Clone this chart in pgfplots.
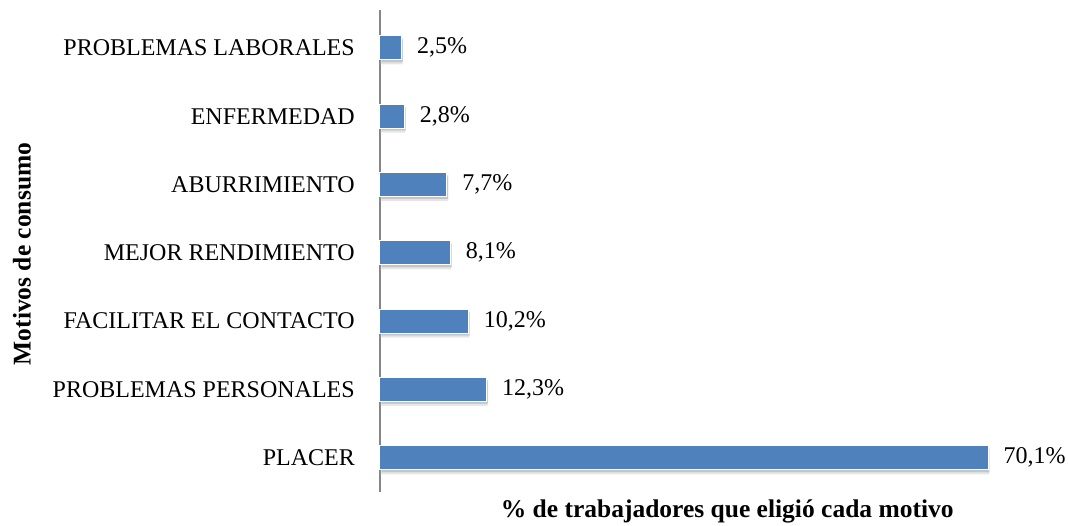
\documentclass[border=0pt]{standalone}
\usepackage{fontspec}
\setmainfont{Liberation Serif}
\usepackage{pgfplots}
\pgfplotsset{compat=1.18}
\definecolor{barblue}{HTML}{4F81BD}
\definecolor{axisgray}{HTML}{868686}
\newcommand{\lblfont}{\fontsize{24pt}{28pt}\selectfont}
\newcommand{\ttlfont}{\fontsize{25.5pt}{30pt}\selectfont\bfseries}

\begin{document}
\begin{tikzpicture}
\begin{axis}[
  at={(0,0)}, anchor=south west,
  scale only axis, width=624.5pt, height=482pt,
  xbar, bar width=24pt,
  xmin=0, xmax=72, ymin=-0.5, ymax=6.554,
  axis lines=left,
  x axis line style={draw=none},
  y axis line style={-, draw=axisgray, line width=1.4pt},
  xtick=\empty,
  ytick={0,...,6},
  yticklabels={PLACER, PROBLEMAS PERSONALES, FACILITAR EL CONTACTO, MEJOR RENDIMIENTO, ABURRIMIENTO, ENFERMEDAD, PROBLEMAS LABORALES},
  major tick length=0pt,
  y tick label style={font=\lblfont, anchor=east, inner sep=0pt, xshift=-25pt},
  xlabel={\% de trabajadores que eligió cada motivo},
  ylabel={Motivos de consumo},
  every axis x label/.style={at={(axis description cs:0.556,0)}, anchor=base, yshift=-26pt, font=\ttlfont},
  every axis y label/.style={at={(axis description cs:0,0.5)}, xshift=-358pt, yshift=-3pt, anchor=center, rotate=90, font=\ttlfont},
  point meta=x,
  /pgf/number format/assume math mode=true,
  nodes near coords={\pgfmathprintnumber[fixed, fixed zerofill, precision=1, use comma]{\pgfplotspointmeta}\%},
  every node near coord/.append style={font=\lblfont, text=black, anchor=west, inner sep=0pt, xshift=15pt},
  clip=false,
]
% soft shadow below each bar, then the bar itself with a thin white rim
\addplot[fill=barblue, draw=white, line width=1pt,
  preaction={fill=black, opacity=0.10, transform canvas={xshift=1pt, yshift=-4.5pt}},
  preaction={fill=black, opacity=0.14, transform canvas={xshift=1.5pt, yshift=-2.5pt}}]
  coordinates {
    (70.1,0)
    (12.3,1)
    (10.2,2)
    (8.1,3)
    (7.7,4)
    (2.8,5)
    (2.5,6)
  };
\end{axis}
\pgfresetboundingbox
\path (-380pt,-34pt) rectangle (688pt,492pt);
\end{tikzpicture}
\end{document}
